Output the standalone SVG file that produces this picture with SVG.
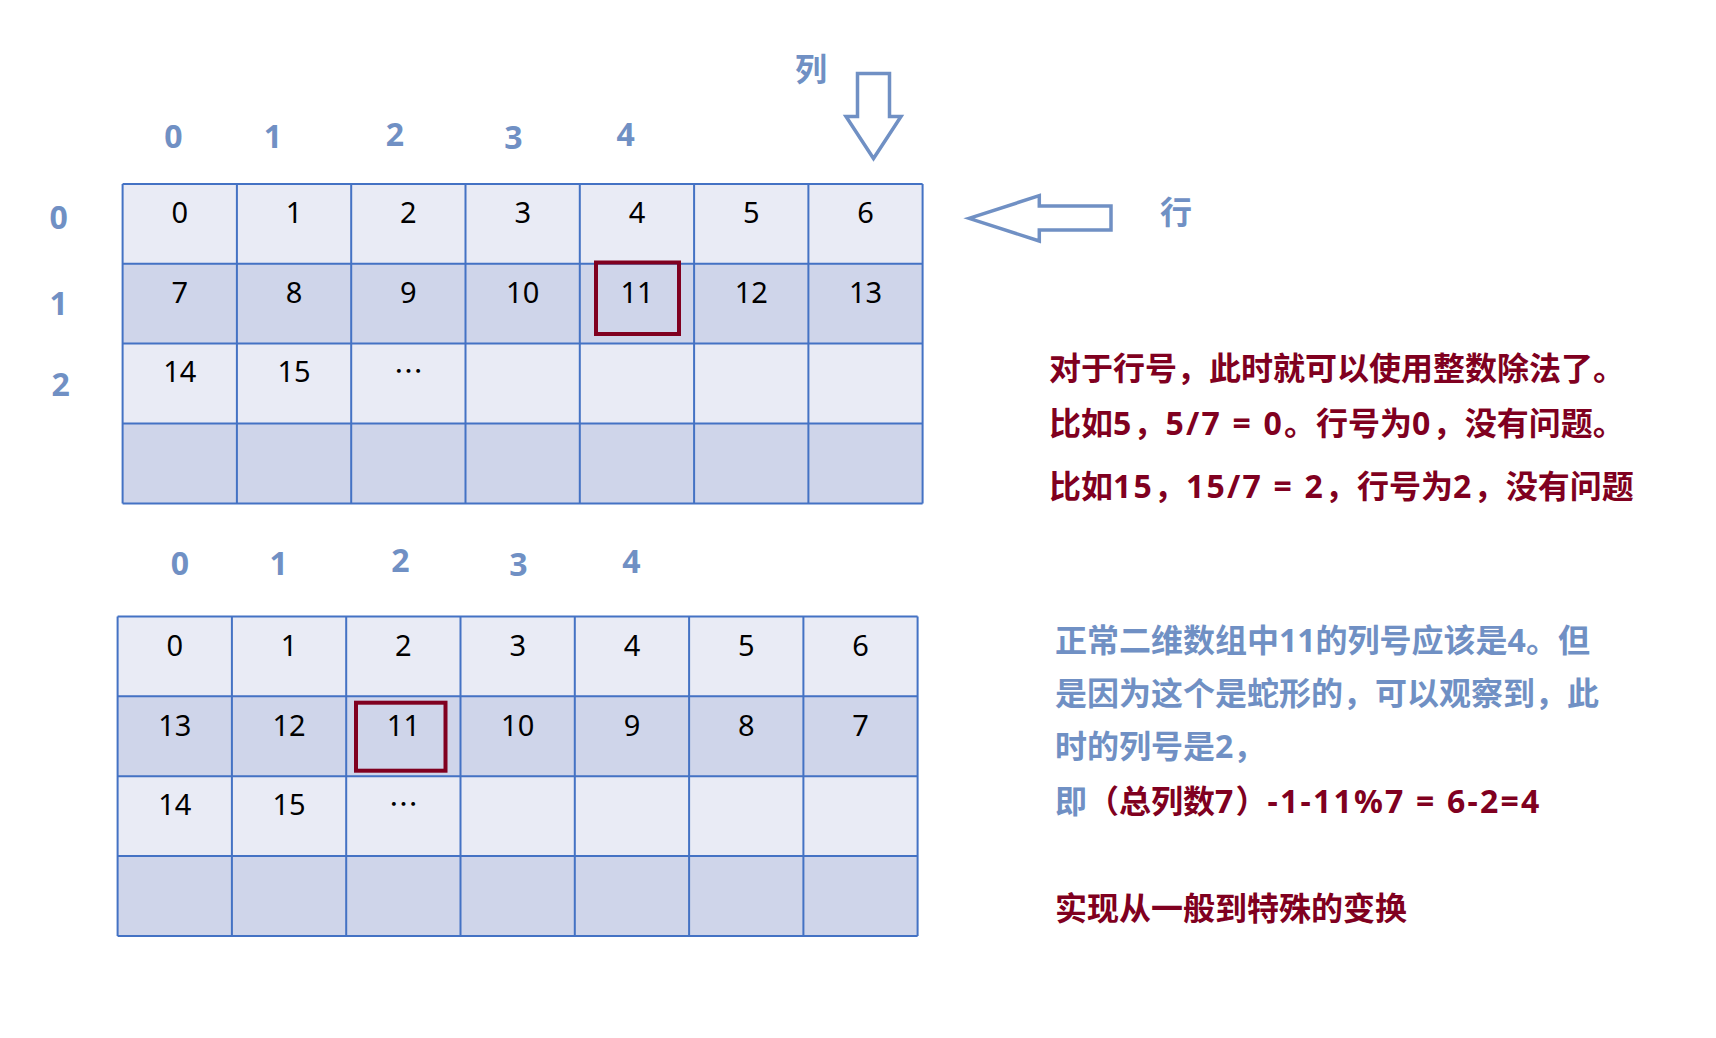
<svg xmlns="http://www.w3.org/2000/svg" width="1716" height="1038" viewBox="0 0 1716 1038">
<style>
.ca{fill:#E9EBF5}
.cb{fill:#CFD5EA}
.grid{fill:none;stroke:#4472C4;stroke-width:2}
.num{font-family:"Noto Sans","Liberation Sans",sans-serif;font-size:29px;text-anchor:middle;fill:#000}
.dots{font-family:"Noto Sans CJK SC",sans-serif;font-size:29px;text-anchor:middle;fill:#000}
.lbl{font-family:"Noto Sans","Liberation Sans",sans-serif;font-weight:bold;font-size:32px;fill:#7090C4;text-anchor:middle}
.lblcn{font-family:"Noto Sans CJK SC",sans-serif;font-weight:bold;font-size:32px;fill:#7090C4;text-anchor:middle}
.hl{fill:none;stroke:#800020;stroke-width:4}
.arrow{fill:#fff;stroke:#7090C4;stroke-width:3.5;stroke-linejoin:miter}
.cn{font-family:"Noto Sans","Noto Sans CJK SC",sans-serif;font-weight:bold;font-size:32px}
.lt{letter-spacing:2.2px}
.red{fill:#800020}
.blue{fill:#7090C4}
</style>
<rect width="1716" height="1038" fill="#fff"/>

<g id="top-table">
  <rect class="ca" x="122.6" y="183.9" width="800" height="79.9"/>
  <rect class="cb" x="122.6" y="263.8" width="800" height="79.8"/>
  <rect class="ca" x="122.6" y="343.6" width="800" height="79.9"/>
  <rect class="cb" x="122.6" y="423.5" width="800" height="79.9"/>
  <path class="grid" d="M122.6 183.9V503.4M236.9 183.9V503.4M351.2 183.9V503.4M465.5 183.9V503.4M579.8 183.9V503.4M694.1 183.9V503.4M808.4 183.9V503.4M922.6 183.9V503.4M122.6 183.9H922.6M122.6 263.8H922.6M122.6 343.6H922.6M122.6 423.5H922.6M122.6 503.4H922.6"/>
  <g class="num">
    <text x="179.8" y="223.4">0</text><text x="294.1" y="223.4">1</text><text x="408.4" y="223.4">2</text><text x="522.7" y="223.4">3</text><text x="637" y="223.4">4</text><text x="751.3" y="223.4">5</text><text x="865.6" y="223.4">6</text>
    <text x="179.8" y="303.3">7</text><text x="294.1" y="303.3">8</text><text x="408.4" y="303.3">9</text><text x="522.7" y="303.3">10</text><text x="637" y="303.3">11</text><text x="751.3" y="303.3">12</text><text x="865.6" y="303.3">13</text>
    <text x="179.8" y="382">14</text><text x="294.1" y="382">15</text>
  </g>
  <text class="dots" x="408.4" y="382">…</text>
  <rect class="hl" x="596" y="262.5" width="83" height="71.5"/>
</g>

<g id="top-labels">
  <text class="lbl" x="173.5" y="147.5">0</text>
  <text class="lbl" x="273" y="147.5">1</text>
  <text class="lbl" x="394.8" y="145.5">2</text>
  <text class="lbl" x="513.4" y="148.7">3</text>
  <text class="lbl" x="625.6" y="146">4</text>
  <text class="lbl" x="58.7" y="229.3">0</text>
  <text class="lbl" x="58.7" y="315">1</text>
  <text class="lbl" x="60.6" y="396">2</text>
  <text class="lblcn" x="811" y="80.5">列</text>
  <text class="lblcn" x="1176" y="224">行</text>
</g>

<g id="arrows">
  <polygon class="arrow" points="857.5,73.5 889.5,73.5 889.5,116.5 901,116.5 873.5,158.5 846,116.5 857.5,116.5"/>
  <polygon class="arrow" points="969,218.3 1039.3,195.7 1039.3,206 1111,206 1111,230 1039.3,230 1039.3,241"/>
</g>

<g id="bottom-table">
  <rect class="ca" x="117.6" y="616.4" width="800" height="79.9"/>
  <rect class="cb" x="117.6" y="696.3" width="800" height="79.9"/>
  <rect class="ca" x="117.6" y="776.2" width="800" height="79.9"/>
  <rect class="cb" x="117.6" y="856.1" width="800" height="79.9"/>
  <path class="grid" d="M117.6 616.4V936M231.9 616.4V936M346.2 616.4V936M460.5 616.4V936M574.8 616.4V936M689.1 616.4V936M803.4 616.4V936M917.6 616.4V936M117.6 616.4H917.6M117.6 696.3H917.6M117.6 776.2H917.6M117.6 856.1H917.6M117.6 936H917.6"/>
  <g class="num">
    <text x="174.8" y="655.9">0</text><text x="289.1" y="655.9">1</text><text x="403.4" y="655.9">2</text><text x="517.7" y="655.9">3</text><text x="632" y="655.9">4</text><text x="746.3" y="655.9">5</text><text x="860.6" y="655.9">6</text>
    <text x="174.8" y="735.8">13</text><text x="289.1" y="735.8">12</text><text x="403.4" y="735.8">11</text><text x="517.7" y="735.8">10</text><text x="632" y="735.8">9</text><text x="746.3" y="735.8">8</text><text x="860.6" y="735.8">7</text>
    <text x="174.8" y="814.7">14</text><text x="289.1" y="814.7">15</text>
  </g>
  <text class="dots" x="403.4" y="814.7">…</text>
  <rect class="hl" x="356" y="702.7" width="89.5" height="68"/>
</g>

<g id="bottom-labels">
  <text class="lbl" x="179.8" y="575">0</text>
  <text class="lbl" x="278.7" y="575">1</text>
  <text class="lbl" x="400.5" y="572.3">2</text>
  <text class="lbl" x="518.5" y="576">3</text>
  <text class="lbl" x="631.4" y="573.3">4</text>
</g>

<g id="note-row">
  <text class="cn red" x="1049" y="379.5">对于行号，此时就可以使用整数除法了。</text>
  <text class="cn red" x="1049" y="435">比如<tspan class="lt">5</tspan>，<tspan class="lt">5/7 = 0</tspan>。行号为<tspan class="lt">0</tspan>，没有问题。</text>
  <text class="cn red" x="1049" y="498">比如<tspan class="lt">15</tspan>，<tspan class="lt">15/7 = 2</tspan>，行号为<tspan class="lt">2</tspan>，没有问题</text>
</g>

<g id="note-col">
  <text class="cn blue" x="1055" y="652">正常二维数组中11的列号应该是4。但</text>
  <text class="cn blue" x="1055" y="705">是因为这个是蛇形的，可以观察到，此</text>
  <text class="cn blue" x="1055" y="758">时的列号是2，</text>
  <text class="cn" x="1055" y="813"><tspan class="blue">即</tspan><tspan class="red">（总列数<tspan class="lt">7</tspan>）<tspan class="lt">-1-11%7 = 6-2=4</tspan></tspan></text>
  <text class="cn red" x="1055" y="919.5">实现从一般到特殊的变换</text>
</g>
</svg>
